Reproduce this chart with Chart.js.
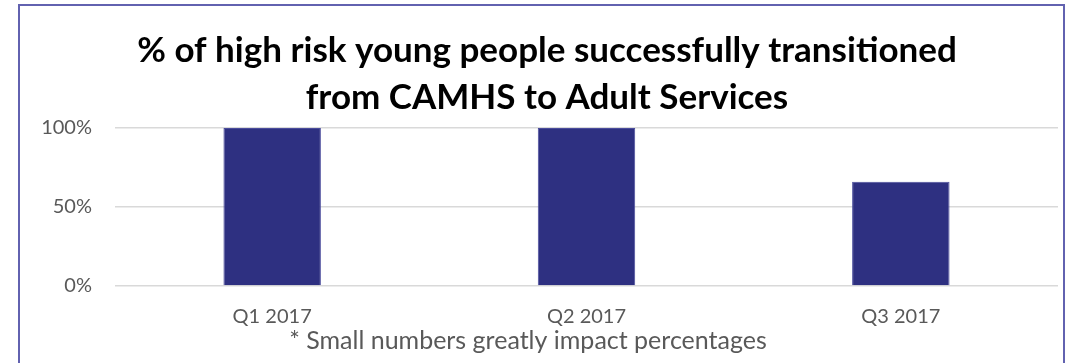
<!DOCTYPE html>
<html>
<head>
<meta charset="utf-8">
<script src="https://cdn.jsdelivr.net/npm/chart.js@4.4.0/dist/chart.umd.min.js"></script>
<style>
  html, body { margin: 0; padding: 0; background: #fff; }
  #wrap { position: relative; width: 1066px; height: 363px; overflow: hidden; }
  #frame { position: absolute; left: 18px; top: 4px; width: 1043px; height: 400px;
           border: 2px solid #6262b0; pointer-events: none; }
</style>
</head>
<body>
<div id="wrap">
  <canvas id="chart" width="1066" height="363"></canvas>
  <div id="frame"></div>
</div>
<script>
var categories = ['Q1 2017', 'Q2 2017', 'Q3 2017'];
var transitioned = [100, 100, 66];
var yTicks = [0, 50, 100];
var titleLines = ['% of high risk young people successfully transitioned', 'from CAMHS to Adult Services'];
var footnote = '* Small numbers greatly impact percentages';

var FONT = 'Lato, "Open Sans", sans-serif';

// footnote under the axis labels
var footnotePlugin = {
  id: 'footnote',
  afterDraw: function (chart) {
    var ctx = chart.ctx;
    ctx.save();
    ctx.font = '25px ' + FONT;
    ctx.fillStyle = '#595959';
    ctx.textAlign = 'center';
    ctx.textBaseline = 'middle';
    ctx.fillText(footnote, 528, 341);
    ctx.restore();
  }
};

new Chart(document.getElementById('chart'), {
  type: 'bar',
  data: {
    labels: categories,
    datasets: [{
      data: transitioned,
      backgroundColor: '#2e3081',
      borderColor: '#4a4c9c',
      borderWidth: 1,
      categoryPercentage: 0.31,
      barPercentage: 1
    }]
  },
  options: {
    responsive: false,
    animation: false,
    layout: { padding: { left: 36, right: 8, top: 0, bottom: 15 } },
    plugins: {
      legend: { display: false },
      tooltip: { enabled: false },
      title: {
        display: true,
        text: titleLines,
        color: '#000',
        font: { family: FONT, size: 35, weight: 'bold', lineHeight: 1.343 },
        padding: { top: 27, bottom: 7 }
      }
    },
    scales: {
      x: {
        grid: { display: false, drawTicks: false },
        border: { display: false },
        ticks: { color: '#595959', font: { family: FONT, size: 20 }, padding: 19 }
      },
      y: {
        min: 0,
        max: 100,
        afterFit: function (scale) { scale.width = 79; },
        afterBuildTicks: function (scale) {
          scale.ticks = yTicks.map(function (v) { return { value: v }; });
        },
        grid: { color: '#d9d9d9', lineWidth: 1.5, drawTicks: false },
        border: { display: false },
        ticks: {
          color: '#595959',
          font: { family: FONT, size: 20 },
          padding: 23,
          callback: function (v) { return v + '%'; }
        }
      }
    }
  },
  plugins: [footnotePlugin]
});
</script>
</body>
</html>
